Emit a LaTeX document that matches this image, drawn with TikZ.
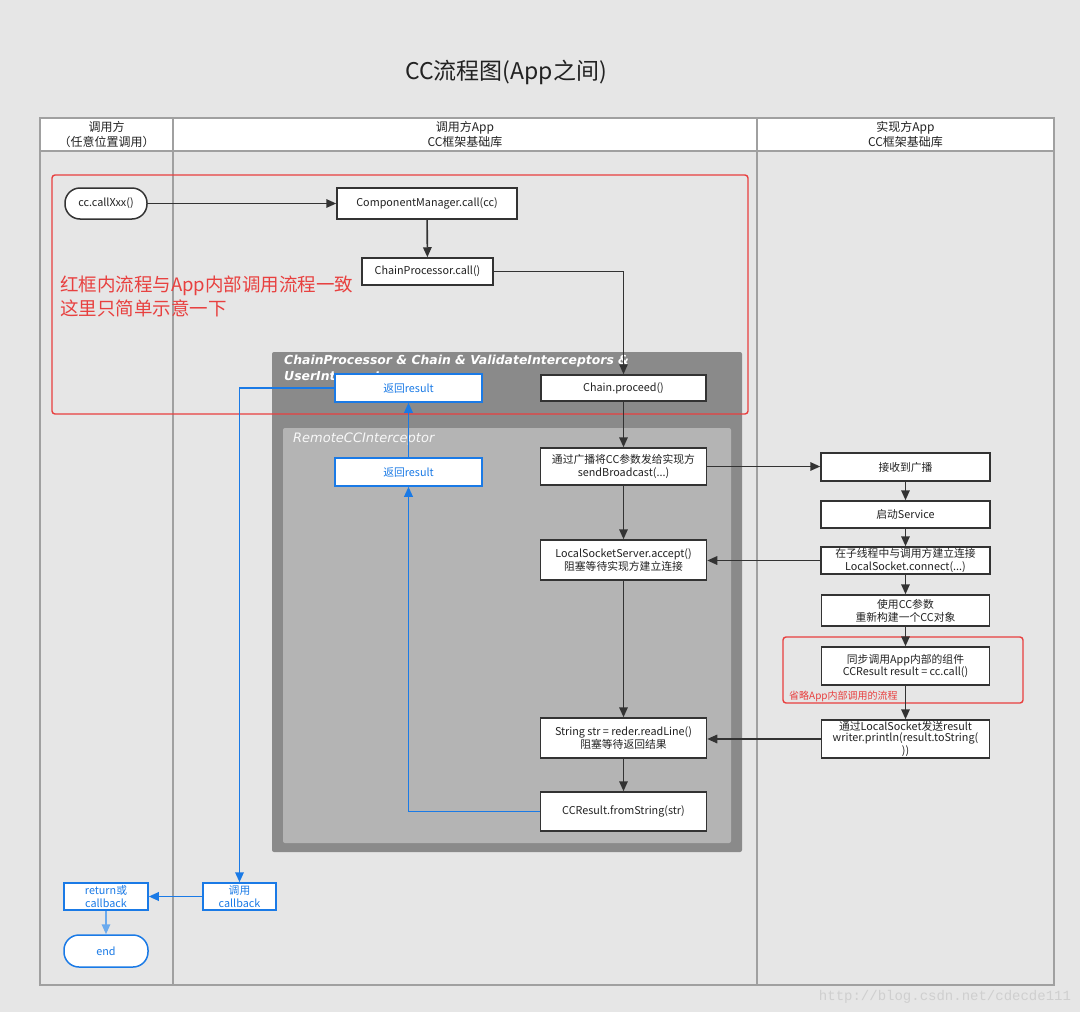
\documentclass[tikz,border=0pt]{standalone}
\usepackage{fontspec}
\setmainfont{Noto Sans CJK SC}
\newfontfamily\djv{DejaVu Sans}
\newfontfamily\wmfont{Liberation Mono}
\usetikzlibrary{arrows.meta}
\definecolor{bgc}{HTML}{E6E6E6}
\definecolor{lanec}{HTML}{A0A0A0}
\definecolor{darkbox}{HTML}{8A8A8A}
\definecolor{innerbox}{HTML}{B4B4B4}
\definecolor{boxline}{HTML}{333333}
\definecolor{txtc}{HTML}{222222}
\definecolor{bluec}{HTML}{1A7AE6}
\definecolor{lbluec}{HTML}{6AAAEE}
\definecolor{redc}{HTML}{E8403F}
\definecolor{wmc}{HTML}{CFCFCF}
\begin{document}
\begin{tikzpicture}[x=1pt,y=-1pt,
  box/.style={draw=boxline, fill=white, line width=1.5pt, align=center, inner sep=0pt,
    text=txtc, font=\fontsize{10.8}{12.8}\selectfont},
  bbox/.style={box, draw=bluec, text=bluec},
  sz/.style 2 args={minimum width=#1pt, minimum height=#2pt},
  arr/.style={draw=boxline, line width=1.6pt, -{Triangle[length=10pt,width=8.5pt]}},
  barr/.style={draw=bluec, line width=1.8pt, -{Triangle[length=10pt,width=8.5pt]}},
  lbarr/.style={draw=lbluec, line width=1.6pt, -{Triangle[length=10pt,width=8.5pt]}},
  hdr/.style={align=center, text=txtc, font=\fontsize{12}{15}\selectfont},
]
\useasboundingbox (0,0) rectangle (1080,1012);
\fill[bgc] (0,0) rectangle (1080,1012);

% title
\node[text=txtc, font=\fontsize{23}{26}\selectfont] (title) at (506,72) {CC流程图(App之间)};

% pool
\fill[white] (40,118) rectangle (1054,151);
\draw[lanec, line width=1.6pt] (40,118) rectangle (1054,985);
\draw[lanec, line width=1.6pt] (40,151) -- (1054,151);
\draw[lanec, line width=1.6pt] (173,118) -- (173,985);
\draw[lanec, line width=1.6pt] (757,118) -- (757,985);
\node[hdr] (h1) at (106.5,134.5) {调用方\\（任意位置调用）};
\node[hdr] (h2) at (465,134.5) {调用方App\\CC框架基础库};
\node[hdr] (h3) at (905.5,134.5) {实现方App\\CC框架基础库};

% grey containers
\fill[darkbox, rounded corners=2pt] (272,352) rectangle (742,852);
\fill[innerbox, rounded corners=2pt] (283,428) rectangle (731,843);
\node[anchor=north west, align=left, text=white, inner sep=0pt,
  font=\djv\bfseries\itshape\fontsize{12.4}{16}\selectfont] (t1) at (284,355)
  {ChainProcessor \& Chain \& ValidateInterceptors \&\\UserInterceptors};
\node[anchor=west, inner sep=0pt, text=white!90!innerbox,
  font=\djv\itshape\fontsize{13}{15}\selectfont] (t2) at (293,439) {RemoteCCInterceptor};

% red frames
\draw[redc, line width=1.4pt, rounded corners=3pt] (52,175) rectangle (748,414);
\draw[redc, line width=1.4pt, rounded corners=3pt] (783,637) rectangle (1023,703);
\node[anchor=west, align=left, text=redc, inner sep=0pt,
  font=\fontsize{18.5}{24}\selectfont] (note) at (60,296)
  {红框内流程与App内部调用流程一致\\这里只简单示意一下};
\node[anchor=west, text=redc, inner sep=0pt, font=\fontsize{10}{12}\selectfont] (note2)
  at (789,696) {省略App内部调用的流程};

% nodes
\node[box, sz={82}{31}, rounded corners=15pt] (callxxx) at (106,203.5) {cc.callXxx()};
\node[box, sz={180}{31}] (cm) at (427,203.5) {ComponentManager.call(cc)};
\node[box, sz={131}{27}] (cp) at (427.5,271.5) {ChainProcessor.call()};
\node[bbox, sz={147}{28}] (ret1) at (408.5,388) {返回result};
\node[box, sz={165}{26}] (proceed) at (623.5,388) {Chain.proceed()};
\node[bbox, sz={147}{28}] (ret2) at (408.5,472) {返回result};
\node[box, sz={166}{37}] (bcast) at (623.5,466.5) {通过广播将CC参数发给实现方\\sendBroadcast(...)};
\node[box, sz={166}{40}] (accept) at (623.5,560) {LocalSocketServer.accept()\\阻塞等待实现方建立连接};
\node[box, sz={166}{40}] (readline) at (623.5,738) {String str = reder.readLine()\\阻塞等待返回结果};
\node[box, sz={166}{39}] (fromstr) at (623.5,811.5) {CCResult.fromString(str)};
\node[box, sz={169}{28}] (recv) at (905.5,467) {接收到广播};
\node[box, sz={169}{27}] (svc) at (905.5,514.5) {启动Service};
\node[box, sz={169}{27}] (conn) at (905.5,560.5) {在子线程中与调用方建立连接\\LocalSocket.connect(...)};
\node[box, sz={168}{31}] (newcc) at (905.5,610.5) {使用CC参数\\重新构建一个CC对象};
\node[box, sz={168}{38}] (sync) at (905.5,666) {同步调用App内部的组件\\CCResult result = cc.call()};
\node[box, sz={168}{38}, font=\fontsize{10.8}{11.5}\selectfont] (send) at (905.5,739)
  {通过LocalSocket发送result\\writer.println(result.toString(\\))};
\node[bbox, sz={73}{27}] (cbk) at (239.5,896.5) {调用\\callback};
\node[bbox, sz={84}{27}] (retcb) at (106,896.5) {return或\\callback};
\node[bbox, sz={84}{32}, rounded corners=15pt] (end) at (106,951) {end};

% connectors
\draw[arr] (callxxx) -- (cm);
\draw[arr] (cm) -- (cp);
\draw[arr, line width=1.3pt] (cp.east) -| (proceed.north);
\draw[arr] (proceed) -- (bcast);
\draw[arr] (bcast.east) -- (bcast.east -| recv.west);
\draw[arr] (bcast) -- (accept);
\draw[arr] (accept) -- (readline);
\draw[arr] (readline) -- (fromstr);
\draw[arr] (recv) -- (svc);
\draw[arr] (svc) -- (conn);
\draw[arr] (conn) -- (newcc);
\draw[arr] (newcc) -- (sync);
\draw[arr] (sync) -- (send);
\draw[arr] (conn.west) -- (conn.west -| accept.east);
\draw[arr] (send.west) -- (send.west -| readline.east);
\draw[barr] (fromstr.west) -| (ret2.south);
\draw[barr] (ret2) -- (ret1);
\draw[barr] (ret1.west) -| (cbk.north);
\draw[barr] (cbk) -- (retcb);
\draw[lbarr] (retcb) -- (end);

% watermark
\node[text=wmc, font=\wmfont\fontsize{14}{14}\selectfont] (wm) at (945,997) {http://blog.csdn.net/cdecde111};
\end{tikzpicture}
\end{document}
